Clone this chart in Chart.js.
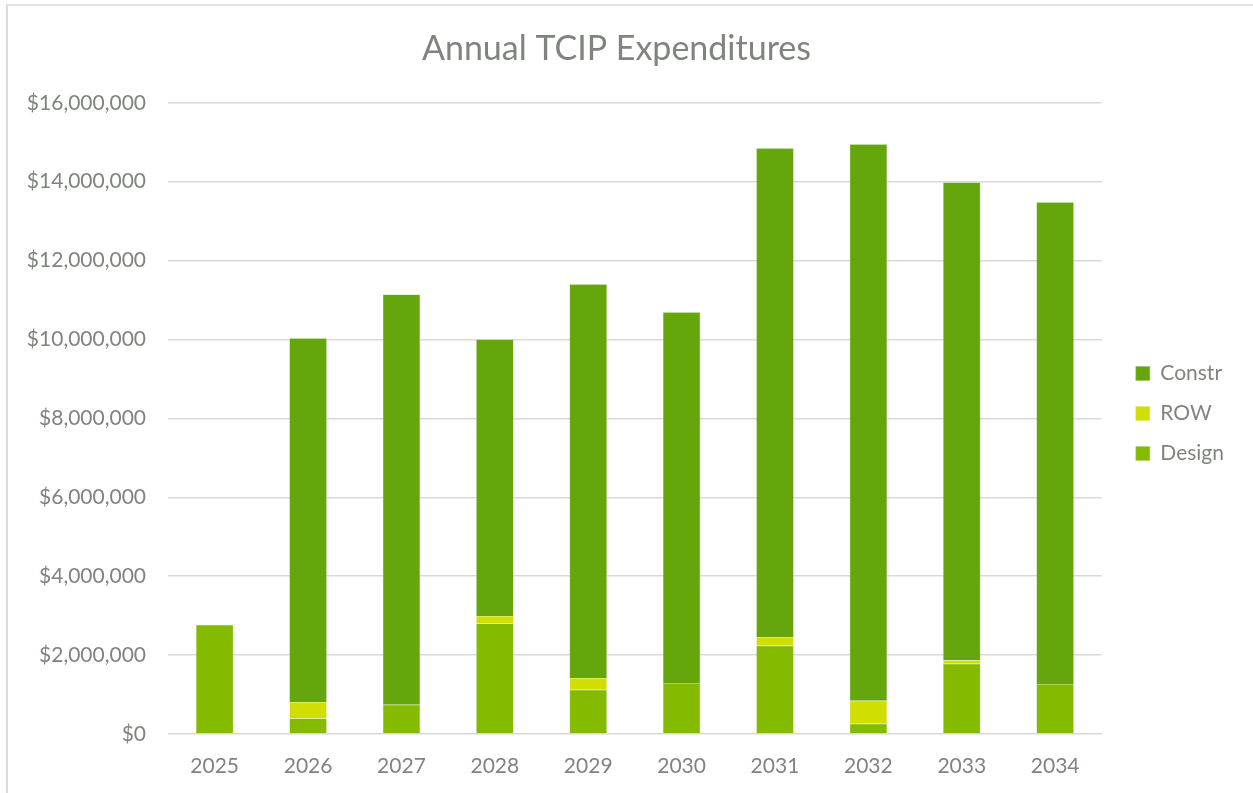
<!DOCTYPE html>
<html>
<head>
<meta charset="utf-8">
<script src="https://cdn.jsdelivr.net/npm/chart.js@4.4.1/dist/chart.umd.min.js"></script>
<style>
  html, body { margin: 0; padding: 0; background: #ffffff; }
  #wrap { position: relative; width: 1253px; height: 793px; overflow: hidden; }
  #frame { position: absolute; left: 6px; top: 4px; width: 1300px; height: 900px; border-left: 2px solid #DCDCDC; border-top: 2px solid #E4E4E4; box-sizing: border-box; }
  canvas { position: absolute; left: 0; top: 0; }
</style>
</head>
<body>
<div id="wrap">
  <div id="frame"></div>
  <canvas id="c" width="1253" height="793"></canvas>
</div>
<script>
const years = ['2025','2026','2027','2028','2029','2030','2031','2032','2033','2034'];
const design = [2770000, 390000, 740000, 2800000, 1120000, 1290000, 2240000, 260000, 1780000, 1270000];
const row    = [0, 420000, 0, 190000, 300000, 0, 220000, 580000, 80000, 0];
const constr = [0, 9220000, 10400000, 7010000, 9980000, 9400000, 12390000, 14110000, 12120000, 12210000];
const yTicks = [0, 2000000, 4000000, 6000000, 8000000, 10000000, 12000000, 14000000, 16000000];

const FONT = 'Lato, "Open Sans", sans-serif';
const TEXT = '#7F857D';
const GRID = '#D9D9D9';

const fmt = v => '$' + Number(v).toLocaleString('en-US');

// widen the right legend slot and shift the legend inside it
const legendTweak = {
  id: 'legendTweak',
  beforeLayout(chart) {
    const lg = chart.legend;
    if (lg && !lg._patched) {
      const fit = lg.fit;
      lg.fit = function () { fit.call(this); this.width += 14; };
      lg._patched = true;
    }
  },
  afterLayout(chart) {
    const lg = chart.legend;
    if (lg) { lg.left += 15; lg.right += 15; lg.top += 17; lg.bottom += 17; }
  }
};

new Chart(document.getElementById('c'), {
  type: 'bar',
  data: {
    labels: years,
    datasets: [
      { label: 'Design', data: design, backgroundColor: '#84BB00', borderColor: '#A6CF5A', borderWidth: 0.5 },
      { label: 'ROW', data: row, backgroundColor: '#D0DE00', borderColor: '#DDE870', borderWidth: 0.5 },
      { label: 'Constr', data: constr, backgroundColor: '#64A60B', borderColor: '#8CC05A', borderWidth: 0.5 }
    ]
  },
  plugins: [legendTweak],
  options: {
    responsive: false,
    animation: false,
    devicePixelRatio: 1,
    layout: { padding: { left: 0, right: 20, top: 0, bottom: 0 } },
    datasets: { bar: { barPercentage: 0.4, categoryPercentage: 1.0 } },
    plugins: {
      title: {
        display: true,
        text: 'Annual TCIP Expenditures',
        color: TEXT,
        font: { family: FONT, size: 34, weight: 'normal' },
        padding: { top: 29, bottom: 33 }
      },
      legend: {
        position: 'right',
        reverse: true,
        labels: {
          color: TEXT,
          font: { family: FONT, size: 21 },
          boxWidth: 14,
          boxHeight: 14,
          padding: 19
        }
      },
      tooltip: { enabled: false }
    },
    scales: {
      x: {
        stacked: true,
        grid: { display: false, drawTicks: false },
        border: { display: false },
        ticks: { color: TEXT, font: { family: FONT, size: 21 }, padding: 20 },
        afterFit: s => { s.height = 59; }
      },
      y: {
        stacked: true,
        min: 0,
        max: 16000000,
        afterBuildTicks: s => { s.ticks = yTicks.map(v => ({ value: v })); },
        grid: { color: GRID, lineWidth: 1.5, drawTicks: false },
        border: { display: false },
        ticks: { color: TEXT, font: { family: FONT, size: 21 }, padding: 22, callback: v => fmt(v) },
        afterFit: s => { s.width = 168; }
      }
    }
  }
});
</script>
</body>
</html>
